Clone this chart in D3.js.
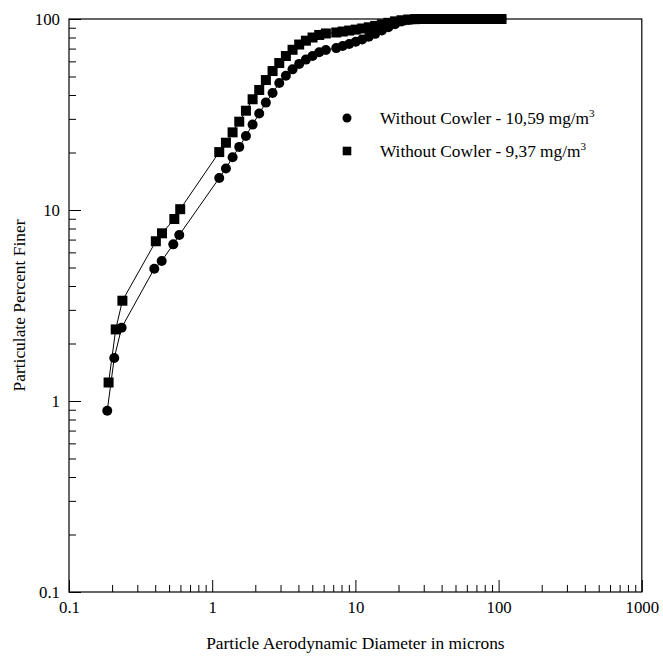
<!DOCTYPE html>
<html lang="en">
<head>
  <meta charset="UTF-8">
  <title>particle size distribution</title>
  <script src="https://cdn.jsdelivr.net/npm/d3@7"></script>
  <style>
    body { margin: 0; background: #fff; }
    text { font-family: "Liberation Serif", "Times New Roman", serif; fill: #000; }
  </style>
</head>
<body>
<script>
let width = 663;
let height = 658;
let plotLeft = 69, plotRight = 641.8, plotTop = 19, plotBottom = 592;

// small-diameter points, read per series
let lowDiamCircle = [0.185, 0.207, 0.233, 0.394, 0.444, 0.535, 0.589];
let lowDiamSquare = [0.189, 0.212, 0.236, 0.404, 0.446, 0.544, 0.598];
let lowPctCircle = [0.89, 1.68, 2.42, 4.93, 5.41, 6.61, 7.40];
let lowPctSquare = [1.25, 2.37, 3.35, 6.86, 7.55, 8.97, 10.1];

// size channels shared by both runs (microns)
let channelDiam = [1.12, 1.247, 1.388, 1.545, 1.72, 1.915, 2.13, 2.37, 2.64, 2.94,
  3.27, 3.64, 4.05, 4.51, 5.02, 5.59, 6.22,
  7.35, 8.15, 9.05, 10.05, 11.15, 12.4, 13.75, 15.3, 17.0, 18.9, 21.0, 23.4, 26.0,
  29.0, 32.3, 35.9, 40.0, 44.5, 49.5, 55.1, 61.4, 68.3, 76.0, 84.6, 94.2, 104.8];

let channelPctCircle = [14.7, 16.5, 18.9, 21.4, 24.4, 28.0, 32.0, 36.5, 41.0, 46.2,
  50.5, 54.5, 58.2, 61.3, 64.0, 67.0, 68.8,
  70.4, 72.2, 74.0, 76.0, 78.2, 80.7, 83.6, 87.0, 90.5, 94.0, 97.0, 98.8, 99.6,
  100, 100, 100, 100, 100, 100, 100, 100, 100, 100, 100, 100, 100];

let channelPctSquare = [20.1, 22.5, 25.5, 29.0, 33.1, 38.0, 42.5, 47.9, 53.4, 58.8,
  64.0, 69.0, 73.5, 77.0, 80.0, 82.5, 84.0,
  85.0, 86.0, 87.0, 88.0, 89.2, 90.5, 92.0, 93.8, 95.5, 97.2, 98.5, 99.4, 99.8,
  100, 100, 100, 100, 100, 100, 100, 100, 100, 100, 100, 100, 100];

let seriesNames = ['Without Cowler - 10,59 mg/m', 'Without Cowler - 9,37 mg/m'];

let xMajor = [0.1, 1, 10, 100, 1000];
let yMajor = [0.1, 1, 10, 100];
let xLabels = ['0.1', '1', '10', '100', '1000'];
let yLabels = ['0.1', '1', '10', '100'];

function minorTicks(lo, hi) {
  let out = [];
  for (let d = lo; d < hi; d *= 10) {
    for (let m = 2; m <= 9; m++) out.push(+(d * m).toPrecision(3));
  }
  return out;
}

let circleData = lowDiamCircle.map((d, i) => [d, lowPctCircle[i]])
  .concat(channelDiam.map((d, i) => [d, channelPctCircle[i]]));
let squareData = lowDiamSquare.map((d, i) => [d, lowPctSquare[i]])
  .concat(channelDiam.map((d, i) => [d, channelPctSquare[i]]));

let svg = d3.select('body')
  .append('svg')
  .attr('width', width)
  .attr('height', height);

let x = d3.scaleLog().domain([0.1, 1000]).range([plotLeft, plotRight]);
let y = d3.scaleLog().domain([0.1, 100]).range([plotBottom, plotTop]);

// major ticks with labels
let xAxis = d3.axisBottom(x)
  .tickValues(xMajor)
  .tickSize(-12)
  .tickPadding(9)
  .tickFormat((d, i) => xLabels[i]);
let yAxis = d3.axisLeft(y)
  .tickValues(yMajor)
  .tickSize(-12)
  .tickPadding(9)
  .tickFormat((d, i) => yLabels[i]);

let gx = svg.append('g')
  .attr('transform', 'translate(0,' + plotBottom + ')')
  .call(xAxis);
let gy = svg.append('g')
  .attr('transform', 'translate(' + plotLeft + ',0)')
  .call(yAxis);

// minor ticks
let gxm = svg.append('g')
  .attr('transform', 'translate(0,' + plotBottom + ')')
  .call(d3.axisBottom(x).tickValues(minorTicks(0.1, 1000)).tickSize(-7).tickFormat(''));
let gym = svg.append('g')
  .attr('transform', 'translate(' + plotLeft + ',0)')
  .call(d3.axisLeft(y).tickValues(minorTicks(0.1, 100)).tickSize(-7).tickFormat(''));

[gx, gy, gxm, gym].forEach(g => {
  g.select('.domain').remove();
  g.selectAll('line').attr('stroke', '#000').attr('stroke-width', 1);
  g.selectAll('text').style('font-family', '"Liberation Serif", serif').style('font-size', '16.8px');
});

// frame
svg.append('rect')
  .attr('x', plotLeft)
  .attr('y', plotTop)
  .attr('width', plotRight - plotLeft)
  .attr('height', plotBottom - plotTop)
  .attr('fill', 'none')
  .attr('stroke', '#000')
  .attr('stroke-width', 1.2);

let line = d3.line()
  .x(d => x(d[0]))
  .y(d => y(d[1]));

[circleData, squareData].forEach(data => {
  svg.append('path')
    .datum(data)
    .attr('d', line)
    .attr('fill', 'none')
    .attr('stroke', '#000')
    .attr('stroke-width', 1);
});

svg.append('g').selectAll('circle')
  .data(circleData)
  .enter()
  .append('circle')
  .attr('cx', d => x(d[0]))
  .attr('cy', d => y(d[1]))
  .attr('r', 5)
  .attr('fill', '#000');

let sq = 10;
svg.append('g').selectAll('rect')
  .data(squareData)
  .enter()
  .append('rect')
  .attr('x', d => x(d[0]) - sq / 2)
  .attr('y', d => y(d[1]) - sq / 2)
  .attr('width', sq)
  .attr('height', sq)
  .attr('fill', '#000');

// legend
let legend = svg.append('g').attr('transform', 'translate(347,118)');
legend.append('circle').attr('cx', 0).attr('cy', 0).attr('r', 4.5).attr('fill', '#000');
legend.append('rect').attr('x', -4.3).attr('y', 33 - 4.3).attr('width', 8.6).attr('height', 8.6).attr('fill', '#000');

seriesNames.forEach((name, i) => {
  let t = legend.append('text')
    .attr('x', 33)
    .attr('y', i * 33 + 6)
    .style('font-size', '17.3px')
    .text(name);
  t.append('tspan')
    .attr('dy', -7)
    .style('font-size', '11px')
    .text('3');
});

// axis titles
svg.append('text')
  .attr('x', (plotLeft + plotRight) / 2)
  .attr('y', 649)
  .attr('text-anchor', 'middle')
  .style('font-size', '17.4px')
  .text('Particle Aerodynamic Diameter in microns');

svg.append('text')
  .attr('transform', 'translate(25,' + ((plotTop + plotBottom) / 2) + ') rotate(-90)')
  .attr('text-anchor', 'middle')
  .style('font-size', '17.4px')
  .text('Particulate Percent Finer');
</script>
</body>
</html>
